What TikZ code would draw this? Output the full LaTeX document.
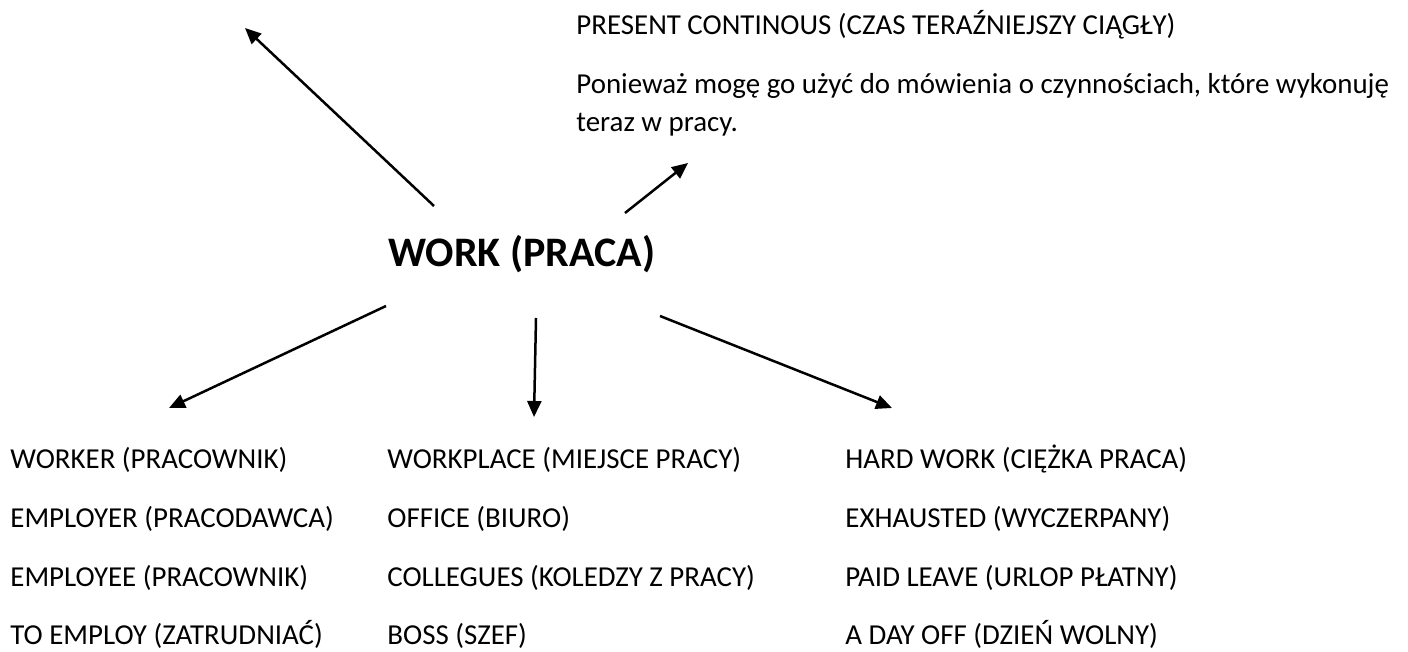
\documentclass[tikz,border=0pt]{standalone}
\usepackage{fontspec}
\setmainfont{Carlito}
\usetikzlibrary{arrows.meta}
\tikzset{
  txt/.style={anchor=base west, inner sep=0pt, font=\fontsize{14.45pt}{17pt}\selectfont},
  ttl/.style={anchor=base west, inner sep=0pt, font=\fontsize{21pt}{25pt}\selectfont\bfseries},
  arr/.style={line width=1.25pt, -{Triangle[length=8pt,width=7pt]}}
}
\begin{document}
\begin{tikzpicture}[x=0.5pt,y=-0.5pt]
\useasboundingbox (0,0) rectangle (1408,652);
% texts
\node[txt] (pc) at (576,35) {PRESENT CONTINOUS (CZAS TERAŹNIEJSZY CIĄGŁY)};
\node[txt] (why1) at (576,94) {Ponieważ mogę go użyć do mówienia o czynnościach, które wykonuję};
\node[txt] (why2) at (576,132) {teraz w pracy.};
\node[ttl] (work) at (388,267) {WORK (PRACA)};
% left column
\node[txt] (a1) at (10,468) {WORKER (PRACOWNIK)};
\node[txt] (a2) at (10,527) {EMPLOYER (PRACODAWCA)};
\node[txt] (a3) at (10,586) {EMPLOYEE (PRACOWNIK)};
\node[txt] (a4) at (10,644) {TO EMPLOY (ZATRUDNIAĆ)};
% middle column
\node[txt] (b1) at (387,468) {WORKPLACE (MIEJSCE PRACY)};
\node[txt] (b2) at (387,527) {OFFICE (BIURO)};
\node[txt] (b3) at (387,586) {COLLEGUES (KOLEDZY Z PRACY)};
\node[txt] (b4) at (387,644) {BOSS (SZEF)};
% right column
\node[txt] (c1) at (845,468) {HARD WORK (CIĘŻKA PRACA)};
\node[txt] (c2) at (845,527) {EXHAUSTED (WYCZERPANY)};
\node[txt] (c3) at (845,586) {PAID LEAVE (URLOP PŁATNY)};
\node[txt] (c4) at (845,644) {A DAY OFF (DZIEŃ WOLNY)};
% arrow endpoints
\coordinate (s1) at (434,206); \coordinate (e1) at (245,28);
\coordinate (s2) at (625,213); \coordinate (e2) at (688,163);
\coordinate (s3) at (386,306); \coordinate (e3) at (169,408);
\coordinate (s4) at (536,318); \coordinate (e4) at (534,417);
\coordinate (s5) at (660,316); \coordinate (e5) at (892,408);
\draw[arr] (s1) -- (e1);
\draw[arr] (s2) -- (e2);
\draw[arr] (s3) -- (e3);
\draw[arr] (s4) -- (e4);
\draw[arr] (s5) -- (e5);
\end{tikzpicture}
\end{document}
